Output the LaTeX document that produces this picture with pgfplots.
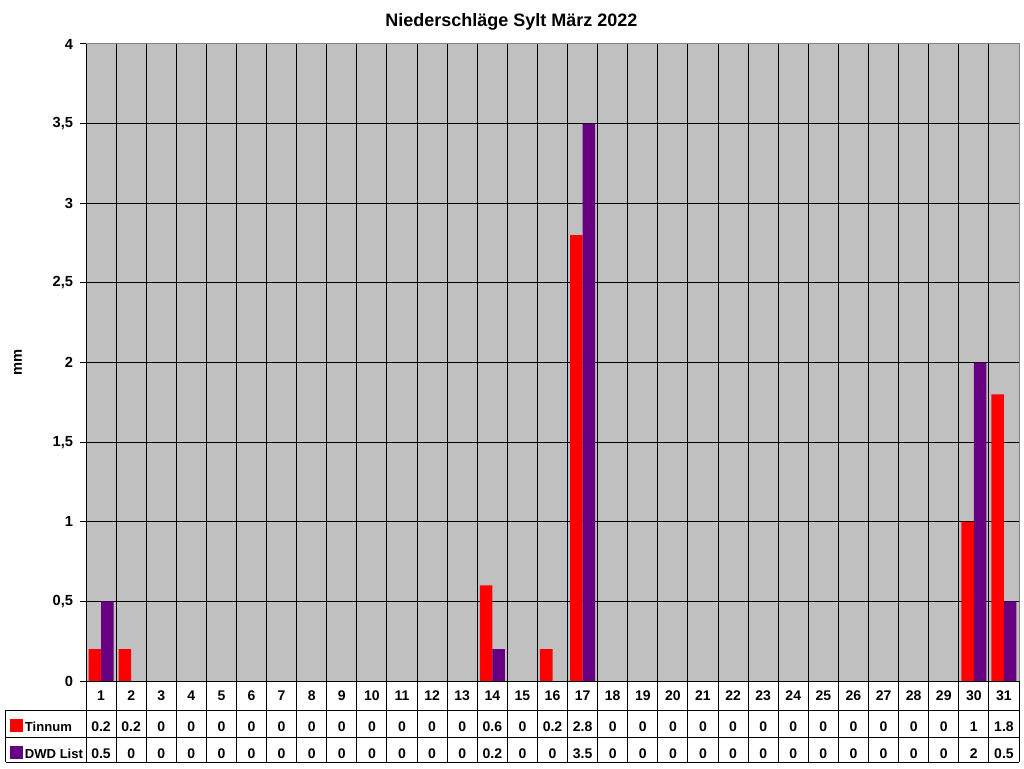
\documentclass[border=0pt]{standalone}
\usepackage{pgfplots}
\pgfplotsset{compat=1.18}
\usepackage{fontspec}
\setmainfont{Liberation Sans}

\definecolor{plotgray}{HTML}{C0C0C0}
\definecolor{tinred}{HTML}{FF0000}
\definecolor{dwdpurple}{RGB}{102,0,128}
\definecolor{bordergray}{HTML}{808080}

% one column of the data table: day, Tinnum, DWD List
\newcommand\cell[3]{#1\\[3.2pt]#2\\#3}

\begin{document}
\begin{tikzpicture}
\path[use as bounding box] (0,0) rectangle (768pt,576pt);
\begin{axis}[
  at={(64.5pt,65.25pt)}, anchor=south west,
  scale only axis, width=699.75pt, height=477.75pt,
  ybar=0pt, bar width=9.4pt,
  xmin=0.5, xmax=31.5, ymin=0, ymax=4,
  axis background/.style={fill=plotgray},
  axis line style={draw=none},
  clip=false,
  tick align=outside, major tick length=4.5pt,
  xtick={1,...,31},
  xtick style={draw=none},
  xticklabels={
    \cell{1}{0.2}{0.5}, \cell{2}{0.2}{0}, \cell{3}{0}{0}, \cell{4}{0}{0},
    \cell{5}{0}{0}, \cell{6}{0}{0}, \cell{7}{0}{0}, \cell{8}{0}{0},
    \cell{9}{0}{0}, \cell{10}{0}{0}, \cell{11}{0}{0}, \cell{12}{0}{0},
    \cell{13}{0}{0}, \cell{14}{0.6}{0.2}, \cell{15}{0}{0}, \cell{16}{0.2}{0},
    \cell{17}{2.8}{3.5}, \cell{18}{0}{0}, \cell{19}{0}{0}, \cell{20}{0}{0},
    \cell{21}{0}{0}, \cell{22}{0}{0}, \cell{23}{0}{0}, \cell{24}{0}{0},
    \cell{25}{0}{0}, \cell{26}{0}{0}, \cell{27}{0}{0}, \cell{28}{0}{0},
    \cell{29}{0}{0}, \cell{30}{1}{2}, \cell{31}{1.8}{0.5}},
  xticklabel style={font=\bfseries\fontsize{10.5}{20}\selectfont, align=center,
    anchor=north, inner sep=0pt, yshift=-2.9pt},
  minor xtick={1.5,2.5,...,30.5},
  xminorgrids=true,
  minor grid style={black, line width=0.75pt},
  ytick={0,0.5,...,4},
  ytick pos=left,
  ymajorgrids=true,
  major grid style={black, line width=0.75pt},
  ytick style={black, line width=0.75pt},
  yticklabel style={font=\bfseries\fontsize{11}{13}\selectfont, inner sep=0pt, xshift=-5pt},
  /pgf/number format/.cd, use comma, 1000 sep={}, assume math mode=true,
  /pgfplots/.cd,
  ylabel={mm},
  every axis y label/.style={at={(axis description cs:-0.073,0.5)}, rotate=90,
    anchor=center, font=\bfseries\fontsize{11}{13}\selectfont},
  title={Niederschläge Sylt März 2022},
  title style={font=\bfseries\fontsize{13.5}{15}\selectfont,
    at={(axis description cs:0.456,1)}, anchor=base, yshift=6.9pt},
]
\addplot[fill=tinred, draw=none] coordinates {
  (1,0.2) (2,0.2) (3,0) (4,0) (5,0) (6,0) (7,0) (8,0) (9,0) (10,0)
  (11,0) (12,0) (13,0) (14,0.6) (15,0) (16,0.2) (17,2.8) (18,0) (19,0) (20,0)
  (21,0) (22,0) (23,0) (24,0) (25,0) (26,0) (27,0) (28,0) (29,0) (30,1) (31,1.8)};
\addplot[fill=dwdpurple, draw=none] coordinates {
  (1,0.5) (2,0) (3,0) (4,0) (5,0) (6,0) (7,0) (8,0) (9,0) (10,0)
  (11,0) (12,0) (13,0) (14,0.2) (15,0) (16,0) (17,3.5) (18,0) (19,0) (20,0)
  (21,0) (22,0) (23,0) (24,0) (25,0) (26,0) (27,0) (28,0) (29,0) (30,2) (31,0.5)};

% plot area frame
\draw[bordergray, line width=0.75pt] (rel axis cs:0,1) -- (rel axis cs:1,1) -- (rel axis cs:1,0);
\draw[black, line width=0.75pt] (rel axis cs:0,1) -- (rel axis cs:0,0) -- (rel axis cs:1,0);

% data table grid
\pgfplotsinvokeforeach{0,...,31}{
  \draw[black, line width=0.75pt] (axis cs:#1.5,0) -- ([yshift=-60.75pt]axis cs:#1.5,0);
}
\draw[black, line width=0.75pt] ([xshift=-60pt,yshift=-21.75pt]rel axis cs:0,0) -- ([yshift=-21.75pt]rel axis cs:1,0);
\draw[black, line width=0.75pt] ([xshift=-60pt,yshift=-42pt]rel axis cs:0,0) -- ([yshift=-42pt]rel axis cs:1,0);
\draw[black, line width=0.75pt] ([xshift=-60pt,yshift=-60.75pt]rel axis cs:0,0) -- ([yshift=-60.75pt]rel axis cs:1,0);
\draw[black, line width=0.75pt] ([xshift=-60pt,yshift=-21.75pt]rel axis cs:0,0) -- ([xshift=-60pt,yshift=-60.75pt]rel axis cs:0,0);

% legend keys inside the table
\fill[tinred] ([xshift=-57pt,yshift=-28.5pt]rel axis cs:0,0) rectangle ([xshift=-47.6pt,yshift=-38.1pt]rel axis cs:0,0);
\fill[dwdpurple] ([xshift=-57pt,yshift=-48.6pt]rel axis cs:0,0) rectangle ([xshift=-47.6pt,yshift=-58.2pt]rel axis cs:0,0);
\node[anchor=base west, inner sep=0pt, font=\bfseries\fontsize{9.8}{12}\selectfont]
  at ([xshift=-46pt,yshift=-38pt]rel axis cs:0,0) {Tinnum};
\node[anchor=base west, inner sep=0pt, font=\bfseries\fontsize{9.8}{12}\selectfont]
  at ([xshift=-46pt,yshift=-58pt]rel axis cs:0,0) {DWD List};
\end{axis}
\end{tikzpicture}
\end{document}
